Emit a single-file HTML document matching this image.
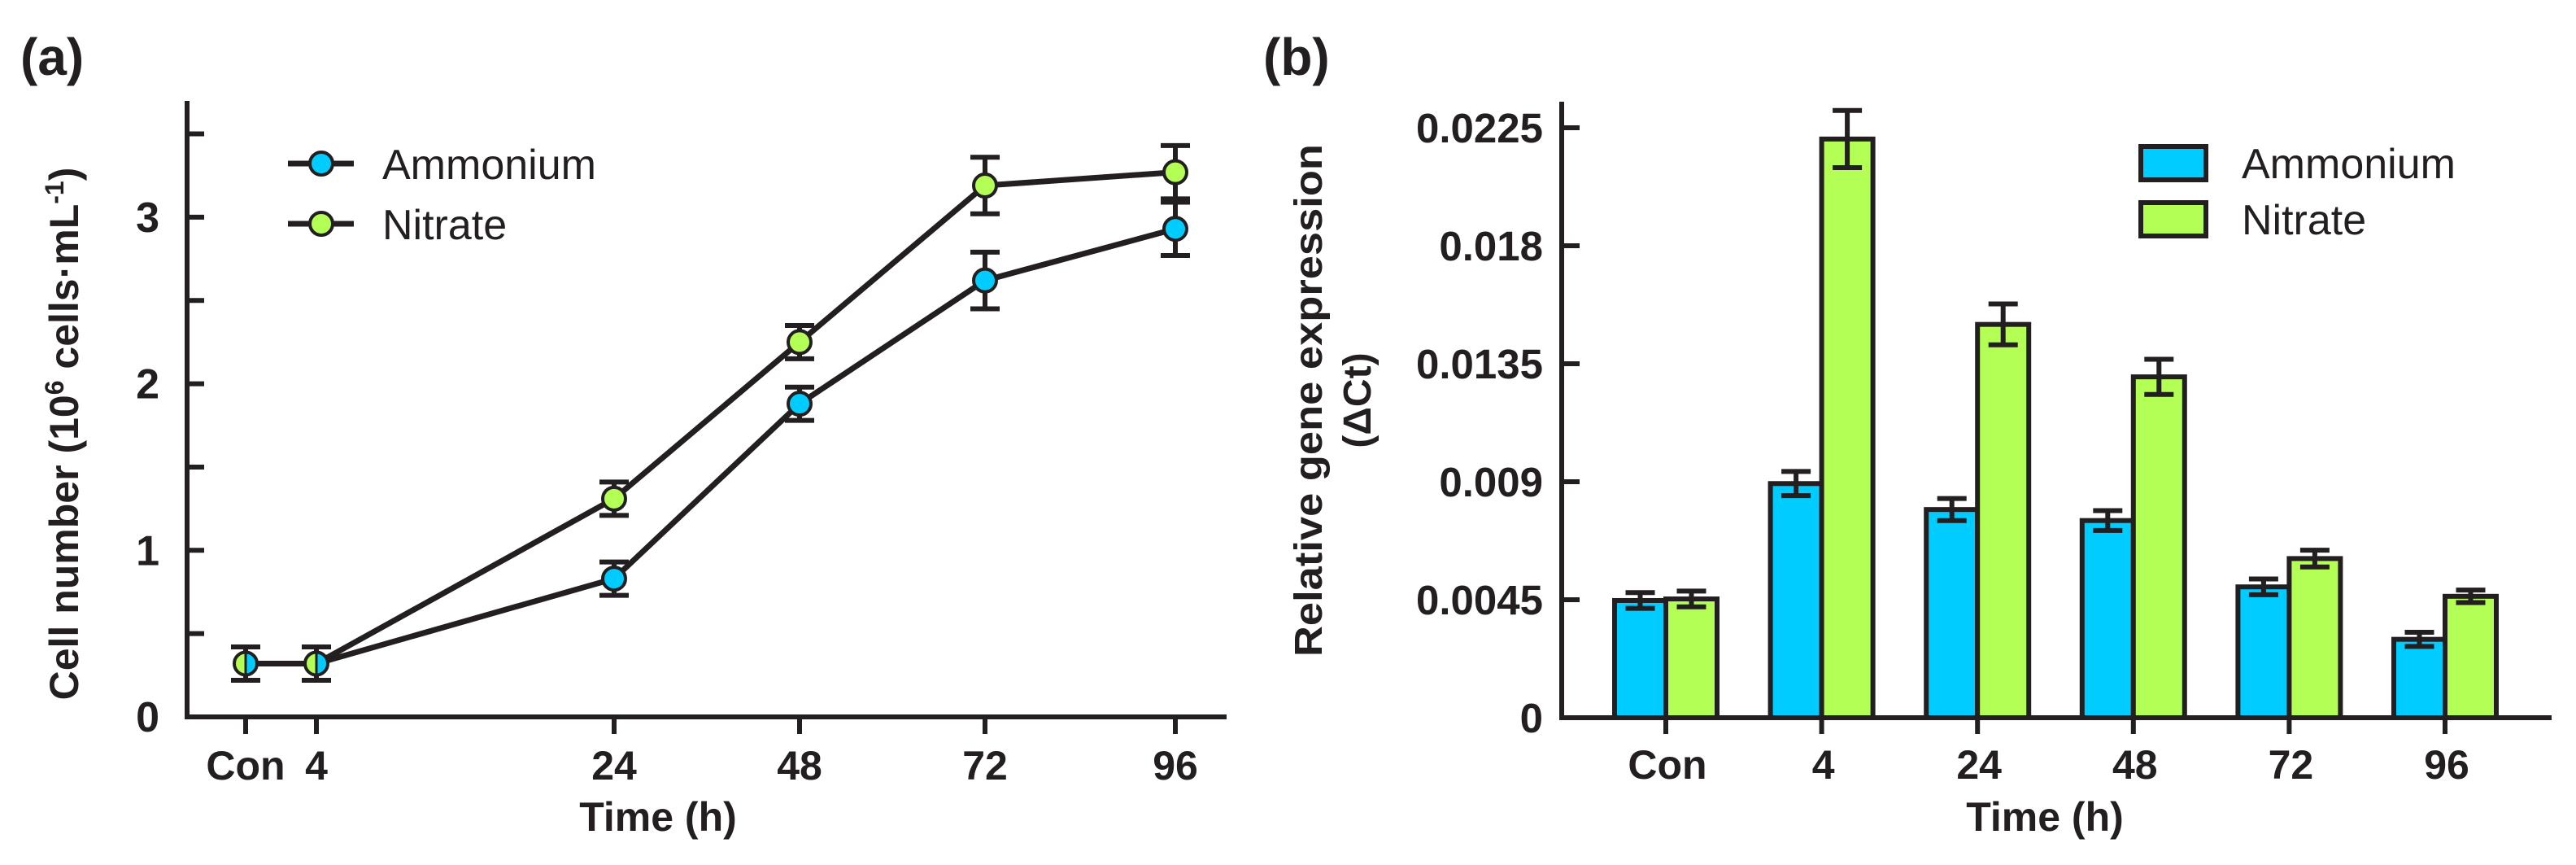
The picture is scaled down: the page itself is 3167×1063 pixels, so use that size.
<!DOCTYPE html>
<html><head><meta charset="utf-8"><style>
html,body{margin:0;padding:0;background:#fff;}
svg{display:block;font-family:"Liberation Sans",sans-serif;}
</style></head><body>
<svg id="fig" width="3167" height="1063" viewBox="0 0 3167 1063" xmlns="http://www.w3.org/2000/svg">
<g id="pa"></g>
<g id="pb"></g>
</svg>
<script>
// ---------- Panel (a) data ----------
const catsA = ["Con","4","24","48","72","96"];
const ammA = [0.32,0.32,0.83,1.88,2.62,2.93];
const ammErrA = [0.1,0.1,0.1,0.1,0.17,0.16];
const nitA = [0.32,0.32,1.31,2.25,3.19,3.27];
const nitErrA = [0.1,0.1,0.1,0.1,0.17,0.16];
const yTicksA = [0,0.5,1,1.5,2,2.5,3,3.5];
const yLabelsA = ["0","","1","","2","","3",""];
// ---------- Panel (b) data ----------
const catsB = ["Con","4","24","48","72","96"];
const ammB = [0.00447,0.00893,0.00794,0.00752,0.00499,0.00299];
const ammErrB = [0.0003,0.00046,0.00042,0.00038,0.0003,0.00027];
const nitB = [0.00453,0.02207,0.0150,0.0130,0.00607,0.00463];
const nitErrB = [0.0003,0.00109,0.00078,0.00067,0.00032,0.00024];
const yTicksB = [0,0.0045,0.009,0.0135,0.018,0.0225];
const yLabelsB = ["0","0.0045","0.009","0.0135","0.018","0.0225"];

const NS="http://www.w3.org/2000/svg";
const INK="#231f20", BLUE="#00ccff", GREEN="#b3ff55";
function mk(parent,tag,attrs,text){const e=document.createElementNS(NS,tag);for(const k in attrs)e.setAttribute(k,attrs[k]);if(text!==undefined)e.textContent=text;parent.appendChild(e);return e;}

// ===== Panel A =====
const pa=document.getElementById('pa');
const axA={x0:230,y0:881,top:124,right:1508};
const xPosA=[302,389,755,983,1211,1445];
function xA(i){return xPosA[i];}
function yA(v){return axA.y0 - v*204.7;}

let t;
t=mk(pa,'text',{x:25,y:92,'font-size':64,'font-weight':'bold',fill:INK},'(a)');


let l=mk(pa,'path',{d:`M${axA.x0},${axA.top} V${axA.y0} H${axA.right}`,stroke:INK,'stroke-width':6,fill:'none'});


yTicksA.forEach((v,i)=>{
  const tk=mk(pa,'line',{x1:axA.x0,x2:axA.x0+21,y1:yA(v),y2:yA(v),stroke:INK,'stroke-width':6});
  
  
  if(yLabelsA[i]){
    const tl=mk(pa,'text',{x:196,y:yA(v)+18,'text-anchor':'end','font-size':52,'font-weight':'bold',fill:INK},yLabelsA[i]);
    
    
  }
});
catsA.forEach((c,i)=>{
  const tk=mk(pa,'line',{x1:xA(i),x2:xA(i),y1:axA.y0,y2:axA.y0+21,stroke:INK,'stroke-width':6});
  
  
  const tl=mk(pa,'text',{x:xA(i),y:958,'text-anchor':'middle','font-size':50,'font-weight':'bold',fill:INK},c);
  
  
});
t=mk(pa,'text',{x:809,y:1021,'text-anchor':'middle','font-size':50,'font-weight':'bold',fill:INK},'Time (h)');


t=mk(pa,'text',{transform:'translate(96,533) rotate(-90)','text-anchor':'middle','font-size':50,'font-weight':'bold',fill:INK});


t.innerHTML='Cell number (10<tspan dy="-18" font-size="32">6</tspan><tspan dy="18"> cells·mL</tspan><tspan dy="-18" font-size="32">-1</tspan><tspan dy="18">)</tspan>';

function seriesA(vals,errs,color,name){
  const pts=vals.map((v,i)=>`${xA(i)},${yA(v)}`).join(' ');
  const pl=mk(pa,'polyline',{points:pts,fill:'none',stroke:INK,'stroke-width':7,'stroke-linejoin':'round'});
  
  
  vals.forEach((v,i)=>{
    const x=xA(i),y1=yA(v+errs[i]),y2=yA(v-errs[i]);
    const eb=mk(pa,'path',{d:`M${x-18},${y1}H${x+18}M${x},${y1}V${y2}M${x-18},${y2}H${x+18}`,stroke:INK,'stroke-width':6,fill:'none'});
    
    
  });
}
seriesA(nitA,nitErrA,GREEN,'nitrate');
seriesA(ammA,ammErrA,BLUE,'ammonium');
function pointA(i,v,color,name,half){
  const x=xA(i),y=yA(v),r=14;
  if(half){
    const g=mk(pa,'g',{});
    
    
    mk(g,'path',{d:`M${x},${y-r}A${r},${r} 0 0 0 ${x},${y+r}Z`,fill:GREEN});
    mk(g,'path',{d:`M${x},${y-r}A${r},${r} 0 0 1 ${x},${y+r}Z`,fill:BLUE});
    mk(g,'line',{x1:x,x2:x,y1:y-r,y2:y+r,stroke:INK,'stroke-width':3});
    mk(g,'circle',{cx:x,cy:y,r:r,fill:'none',stroke:INK,'stroke-width':4});
    return;
  }
  const c=mk(pa,'circle',{cx:x,cy:y,r:r,fill:color,stroke:INK,'stroke-width':4});
  
  
}
nitA.forEach((v,i)=>{ if(Math.abs(v-ammA[i])>0.05) pointA(i,v,GREEN,'nitrate',false); });
ammA.forEach((v,i)=>{ pointA(i,v,BLUE,'ammonium',Math.abs(v-nitA[i])<=0.05); });

function legendA(y,color,label){
  const g=mk(pa,'g',{});
  
  
  mk(g,'line',{x1:354,x2:435,y1:y,y2:y,stroke:INK,'stroke-width':7});
  mk(g,'circle',{cx:395,cy:y,r:14,fill:color,stroke:INK,'stroke-width':4});
  mk(g,'text',{x:470,y:y+19,'font-size':52,fill:INK},label);
}
legendA(201,BLUE,'Ammonium');
legendA(275,GREEN,'Nitrate');

// ===== Panel B =====
const pb=document.getElementById('pb');
const axB={x0:1920,y0:882,top:125,right:3137};
function xB(i){return 2048 + i*191.6;}
function yB(v){return axB.y0 - v/0.0225*725;}
const bw=63;
t=mk(pb,'text',{x:1553,y:92,'font-size':64,'font-weight':'bold',fill:INK},'(b)');


yTicksB.forEach((v,i)=>{
  const tk=mk(pb,'line',{x1:axB.x0,x2:axB.x0+22,y1:yB(v),y2:yB(v),stroke:INK,'stroke-width':6});
  
  
  const tl=mk(pb,'text',{x:1897,y:yB(v)+18,'text-anchor':'end','font-size':51,'font-weight':'bold',fill:INK},yLabelsB[i]);
  
  
});
function barB(i,v,err,color,name,side){
  const x=side<0?xB(i)-bw:xB(i);
  const r=mk(pb,'rect',{x:x,y:yB(v),width:bw,height:axB.y0-yB(v),fill:color,stroke:INK,'stroke-width':6});
  
  
  const cx=x+bw/2,y1=yB(v+err),y2=yB(v-err);
  const eb=mk(pb,'path',{d:`M${cx-18},${y1}H${cx+18}M${cx},${y1}V${y2}M${cx-18},${y2}H${cx+18}`,stroke:INK,'stroke-width':6,fill:'none'});
  
  
}
catsB.forEach((c,i)=>{
  barB(i,ammB[i],ammErrB[i],BLUE,'ammonium',-1);
  barB(i,nitB[i],nitErrB[i],GREEN,'nitrate',1);
});
l=mk(pb,'path',{d:`M${axB.x0},${axB.top} V${axB.y0} H${axB.right}`,stroke:INK,'stroke-width':6,fill:'none'});


catsB.forEach((c,i)=>{
  const tk=mk(pb,'line',{x1:xB(i),x2:xB(i),y1:axB.y0,y2:axB.y0+20,stroke:INK,'stroke-width':6});
  
  
  const tl=mk(pb,'text',{x:xB(i)+2,y:957,'text-anchor':'middle','font-size':50,'font-weight':'bold',fill:INK},c);
  
  
});
t=mk(pb,'text',{x:2514,y:1021,'text-anchor':'middle','font-size':50,'font-weight':'bold',fill:INK},'Time (h)');


t=mk(pb,'text',{transform:'translate(1625,492) rotate(-90)','text-anchor':'middle','font-size':48,'font-weight':'bold',fill:INK,textLength:630,lengthAdjust:'spacingAndGlyphs'},'Relative gene expression');


t=mk(pb,'text',{transform:'translate(1685,492) rotate(-90)','text-anchor':'middle','font-size':48,'font-weight':'bold',fill:INK},'(ΔCt)');


function legendB(y,color,label){
  const g=mk(pb,'g',{});
  
  
  mk(g,'rect',{x:2632,y:y,width:80,height:41,fill:color,stroke:INK,'stroke-width':6});
  mk(g,'text',{x:2756,y:y+39,'font-size':52,fill:INK},label);
}
legendB(180,BLUE,'Ammonium');
legendB(249,GREEN,'Nitrate');
</script>
</body></html>
